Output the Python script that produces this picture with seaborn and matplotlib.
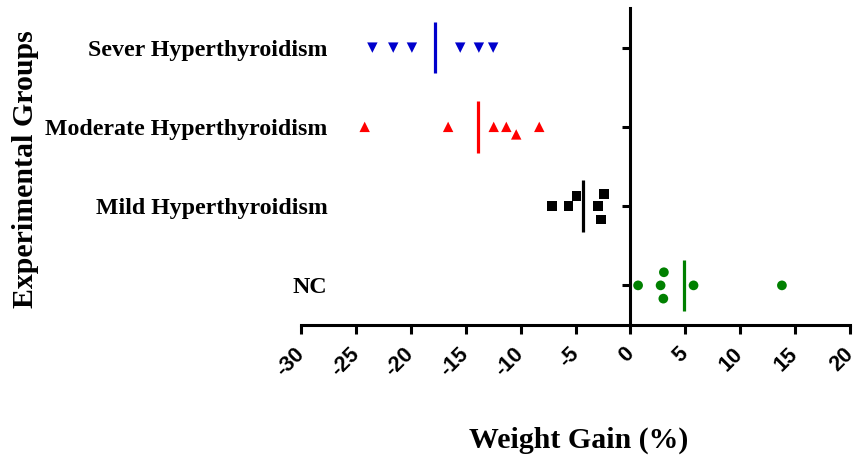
import numpy as np
import pandas as pd
import matplotlib
matplotlib.use("Agg")
import matplotlib.pyplot as plt
import seaborn as sns

# ---- data ----
groups = ["Sever Hyperthyroidism", "Moderate Hyperthyroidism", "Mild Hyperthyroidism", "NC"]
sever = [-23.5, -21.6, -19.9, -15.5, -13.8, -12.5]
moderate = [-24.2, -16.6, -12.45, -11.3, -10.4, -8.3]
mild = [-7.15, -5.65, -4.9, -2.95, -2.7, -2.4]
nc = [0.7, 2.75, 3.0, 3.05, 5.75, 13.8]
x_ticks = [-30, -25, -20, -15, -10, -5, 0, 5, 10, 15, 20]

values = [sever, moderate, mild, nc]
markers = ["v", "^", "s", "o"]
colors = ["#0000CC", "#FF0000", "#000000", "#008000"]
sizes = [7.5, 7.5, 7, 7]
spacing = [1.3, 1.3, 2.3, 2.3]

sns.set_theme(style="white")
plt.rcParams["font.family"] = ["Liberation Serif", "DejaVu Serif"]
plt.rcParams.update({"text.color": "black", "axes.labelcolor": "black",
                     "xtick.color": "black", "ytick.color": "black"})

fig = plt.figure(figsize=(8.56, 4.57), dpi=100)
ax = fig.add_axes([301 / 856, 1 - 325 / 457, 549 / 856, 317 / 457])

for g, vals, m, c, s, lw in zip(groups, values, markers, colors, sizes, spacing):
    df = pd.DataFrame({"gain": vals, "group": [g] * len(vals)})
    sns.swarmplot(data=df, x="gain", y="group", order=groups, marker=m,
                  color=c, size=s, linewidth=lw, edgecolor="none", ax=ax)

# mean lines
for i, (vals, c) in enumerate(zip(values, colors)):
    ax.vlines(np.mean(vals), i - 0.325, i + 0.325, color=c, lw=2.3, zorder=4)

ax.set_xlim(x_ticks[0], x_ticks[-1])
ax.set_ylim(len(groups) - 0.5, -0.5)
ax.set_xticks(x_ticks)
ax.set_xticklabels([str(t) for t in x_ticks], rotation=45, ha="right",
                   va="center", rotation_mode="anchor", color="black",
                   fontfamily="Liberation Sans", fontweight="bold", fontsize=15.5)
ax.set_yticks(range(len(groups)))
ax.set_yticklabels(groups, fontsize=17.2, fontweight="bold", color="black")

for sp in ["top", "right", "left"]:
    ax.spines[sp].set_visible(False)
ax.spines["bottom"].set_linewidth(2.2)
ax.spines["bottom"].set_color("black")
ax.tick_params(axis="x", bottom=True, direction="out", length=6.5, width=2.2,
               color="black", pad=12)
ax.tick_params(axis="y", left=False, length=0, pad=-19)

sec = ax.secondary_yaxis(0, transform=ax.transData)
sec.set_yticks(range(len(groups)))
sec.tick_params(axis="y", left=True, direction="out", length=6, width=2.2,
                color="black", labelleft=False)
sec.spines["left"].set_linewidth(2.2)
sec.spines["left"].set_color("black")

ax.set_xlabel("Weight Gain (%)", fontsize=21.5, fontweight="bold", color="black")
ax.xaxis.set_label_coords(0.506, -0.32)
ax.set_ylabel("Experimental Groups", fontsize=21.5, fontweight="bold", color="black")
ax.yaxis.set_label_coords(-0.477, 0.4905)

fig.savefig("out.png", dpi=100)
